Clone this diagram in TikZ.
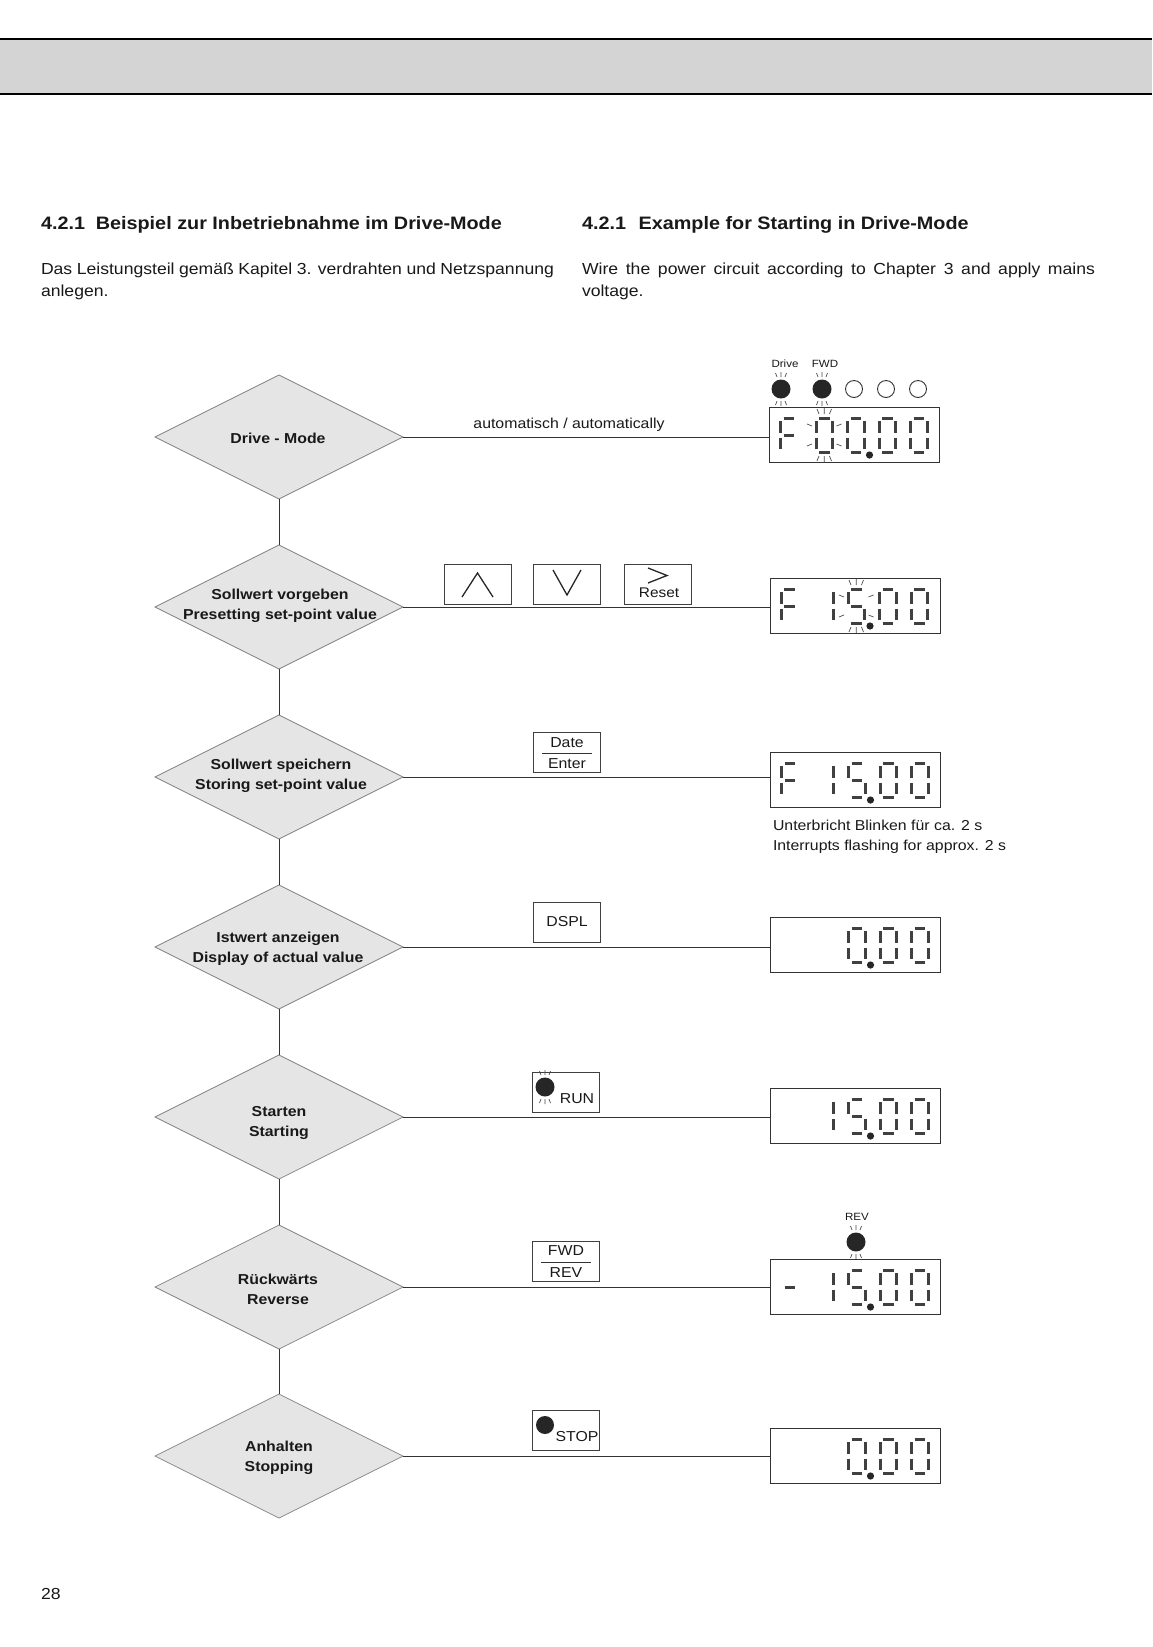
\documentclass[tikz,border=0pt]{standalone}
\usepackage{fontspec}
\setmainfont{Liberation Sans}[FakeStretch=1.1]
\usetikzlibrary{shapes.geometric,calc}
\newcommand\fsA{\fontsize{14.4}{20}\selectfont}
\newcommand\fsS{\fontsize{10.5}{12}\selectfont}
\newcommand\sdig[4]{\pic at ({#1-7+31.5*(#2-2)},{#3-17}) {#4};}
\newcommand\sblink[3]{\pic at ({#1-7+31.5*(#2-2)},{#3-17}) {blink};}
\newcommand\sFF[3]{\pic at ({#1-74},{#2-17}) {#3};}
\newcommand\sdot[2]{\fill[black!85] ({#1+15},{#2+20}) circle (3.6pt);}
\tikzset{
 seg/.style={line width=3pt, draw=black!75},
 ray/.style={line width=0.7pt, draw=black!70},
 sd0/.pic={\draw[seg] (3,0)--(13.5,0) (16.5,3)--(16.5,14.5) (16.5,19.5)--(16.5,31) (3,34)--(13.5,34) (0,19.5)--(0,31) (0,3)--(0,14.5);},
 sd1/.pic={\draw[seg] (16.5,3)--(16.5,14.5) (16.5,19.5)--(16.5,31);},
 sd5/.pic={\draw[seg] (3,0)--(13.5,0) (0,3)--(0,14.5) (3,17)--(13.5,17) (16.5,19.5)--(16.5,31) (3,34)--(13.5,34);},
 sdF/.pic={\draw[seg] (3,0)--(13.5,0) (0,3)--(0,14.5) (3,17)--(13.5,17) (0,19.5)--(0,31);},
 sdm/.pic={\draw[seg] (3,17)--(13.5,17);},
 blink/.pic={\draw[ray] (3,-4)--(1,-9) (8.25,-4)--(8.25,-10) (13.5,-4)--(15.5,-9)
   (3,38)--(1,43) (8.25,38)--(8.25,44) (13.5,38)--(15.5,43)
   (-4,8)--(-9,6) (-4,26)--(-9,28) (20.5,8)--(25.5,6) (20.5,26)--(25.5,28);},
 ledr/.pic={\fill[black!85] (0,0) circle (9.5pt);
   \draw[ray] (-4,-12)--(-5.5,-16) (0,-12)--(0,-17) (4,-12)--(5.5,-16) (-4,12)--(-5.5,16) (0,12)--(0,17) (4,12)--(5.5,16);},
}
\begin{document}
\begin{tikzpicture}[x=1pt,y=-1pt,
  every node/.style={inner sep=0pt,outer sep=0pt,text=black!90},
  dia/.style={diamond, draw=black!50, fill=black!10, line width=0.7pt, minimum width=248pt, minimum height=124pt},
  dtext/.style={font=\bfseries\fsA, align=center},
  disp/.style={draw=black!80, line width=1pt, minimum width=170pt, minimum height=55pt},
  btn/.style={draw=black!75, line width=0.9pt, minimum width=67pt, minimum height=40pt},
  conn/.style={line width=0.9pt, draw=black!80},
  chev/.style={line width=1.3pt, draw=black!85},
  btxt/.style={font=\fsA},
  ]
\fill[white] (0,0) rectangle (1152,1647);
\useasboundingbox (0,0) rectangle (1152,1647);
% header bar
\fill[black!17] (0,39) rectangle (1152,94);
\draw[line width=2pt] (0,39) -- (1152,39) (0,94) -- (1152,94);
% headings
\node[anchor=base west, font=\bfseries\fontsize{18}{22}\selectfont] (h1) at (41,229) {4.2.1\hspace{0.6em}Beispiel zur Inbetriebnahme im Drive-Mode};
\node[anchor=base west, font=\bfseries\fontsize{18}{22}\selectfont] (h2) at (582,229) {4.2.1\hspace{0.7em}Example for Starting in Drive-Mode};
\node[anchor=base west, font=\fontsize{16}{22}\selectfont] (p1) at (41,274) {\makebox[513pt][s]{Das Leistungsteil gemäß Kapitel 3. verdrahten und Netzspannung}};
\node[anchor=base west, font=\fontsize{16}{22}\selectfont] (p2) at (41,296) {anlegen.};
\node[anchor=base west, font=\fontsize{16}{22}\selectfont] (p3) at (582,274) {\makebox[513pt][s]{Wire the power circuit according to Chapter 3 and apply mains}};
\node[anchor=base west, font=\fontsize{16}{22}\selectfont] (p4) at (582,296) {voltage.};
% diamonds
\node[dia] (d1) at (279,437) {};
\node[dtext] (t1) at (278,438.5) {Drive - Mode};
\node[dia] (d2) at (279,607) {};
\node[dtext] (t2) at (280,606) {Sollwert vorgeben\\Presetting set-point value};
\node[dia] (d3) at (279,777) {};
\node[dtext] (t3) at (281,775.5) {Sollwert speichern\\Storing set-point value};
\node[dia] (d4) at (279,947) {};
\node[dtext] (t4) at (278,948.5) {Istwert anzeigen\\Display of actual value};
\node[dia] (d5) at (279,1117) {};
\node[dtext] (t5) at (279,1123) {Starten\\Starting};
\node[dia] (d6) at (279,1287) {};
\node[dtext] (t6) at (278,1289.5) {Rückwärts\\Reverse};
\node[dia] (d7) at (279,1456) {};
\node[dtext] (t7) at (279,1458) {Anhalten\\Stopping};
% displays
\node[disp] (s1) at (854.5,435) {};
\node[disp] (s2) at (855,606) {};
\node[disp] (s3) at (855.5,780) {};
\node[disp] (s4) at (855.5,945) {};
\node[disp] (s5) at (855.5,1116) {};
\node[disp] (s6) at (855.5,1287) {};
\node[disp] (s7) at (855.5,1456) {};
% connectors
\draw[conn] (d1.south) -- (d2.north);
\draw[conn] (d2.south) -- (d3.north);
\draw[conn] (d3.south) -- (d4.north);
\draw[conn] (d4.south) -- (d5.north);
\draw[conn] (d5.south) -- (d6.north);
\draw[conn] (d6.south) -- (d7.north);
\draw[conn] (d1.east) -- (d1.east -| s1.west);
\draw[conn] (d2.east) -- (d2.east -| s2.west);
\draw[conn] (d3.east) -- (d3.east -| s3.west);
\draw[conn] (d4.east) -- (d4.east -| s4.west);
\draw[conn] (d5.east) -- (d5.east -| s5.west);
\draw[conn] (d6.east) -- (d6.east -| s6.west);
\draw[conn] (d7.east) -- (d7.east -| s7.west);
% labels
\node[anchor=base, font=\fsA] (auto) at (569,428) {automatisch / automatically};
\node[anchor=base west, font=\fsA] (n1) at (773,830) {Unterbricht Blinken für ca. 2 s};
\node[anchor=base west, font=\fsA] (n2) at (773,850) {Interrupts flashing for approx. 2 s};
% LED row
\node[font=\fsS] (ldrive) at (785,364) {Drive};
\node[font=\fsS] (lfwd) at (825,364) {FWD};
\pic at (781,389) {ledr};
\pic at (822,389) {ledr};
\draw[line width=0.9pt, black!80] (854,389) circle (8.5pt) (886,389) circle (8.5pt) (918,389) circle (8.5pt);
\node[font=\fsS] (lrev) at (857,1217) {REV};
\pic at (856,1242) {ledr};
% display contents
\sFF{854.5}{435}{sdF} \sdig{854.5}{1}{435}{sd0} \sblink{854.5}{1}{435} \sdig{854.5}{2}{435}{sd0} \sdot{854.5}{435} \sdig{854.5}{3}{435}{sd0} \sdig{854.5}{4}{435}{sd0}
\sFF{855}{606}{sdF} \sdig{855}{1}{606}{sd1} \sdig{855}{2}{606}{sd5} \sblink{855}{2}{606} \sdot{855}{606} \sdig{855}{3}{606}{sd0} \sdig{855}{4}{606}{sd0}
\sFF{855.5}{780}{sdF} \sdig{855.5}{1}{780}{sd1} \sdig{855.5}{2}{780}{sd5} \sdot{855.5}{780} \sdig{855.5}{3}{780}{sd0} \sdig{855.5}{4}{780}{sd0}
\sdig{855.5}{2}{945}{sd0} \sdot{855.5}{945} \sdig{855.5}{3}{945}{sd0} \sdig{855.5}{4}{945}{sd0}
\sdig{855.5}{1}{1116}{sd1} \sdig{855.5}{2}{1116}{sd5} \sdot{855.5}{1116} \sdig{855.5}{3}{1116}{sd0} \sdig{855.5}{4}{1116}{sd0}
\sFF{855.5}{1287}{sdm} \sdig{855.5}{1}{1287}{sd1} \sdig{855.5}{2}{1287}{sd5} \sdot{855.5}{1287} \sdig{855.5}{3}{1287}{sd0} \sdig{855.5}{4}{1287}{sd0}
\sdig{855.5}{2}{1456}{sd0} \sdot{855.5}{1456} \sdig{855.5}{3}{1456}{sd0} \sdig{855.5}{4}{1456}{sd0}
% buttons
\node[btn] (b1) at (477.5,584) {};
\draw[chev] (462,597) -- (477.5,573) -- (493,597);
\node[btn] (b2) at (567,584) {};
\draw[chev] (553,570) -- (567,595) -- (581,570);
\node[btn] (b3) at (658,584.5) {};
\draw[chev] (648,568) -- (667,575.5) -- (648,583);
\node[font=\fontsize{14}{16}\selectfont] (b3t) at (659,593) {Reset};
\node[btn] (b4) at (567,752.5) {};
\node[btxt] (b4a) at (567,742.5) {Date};
\draw[line width=0.8pt, black!80] (542,753.5) -- (592,753.5);
\node[btxt] (b4b) at (567,764) {Enter};
\node[btn] (b5) at (567,922.5) {};
\node[btxt] (b5t) at (567,921.5) {DSPL};
\node[btn] (b6) at (566,1092) {};
\pic at (545,1087) {ledr};
\node[btxt] (b6t) at (577,1098.5) {RUN};
\node[btn] (b7) at (566,1261.5) {};
\node[btxt] (b7a) at (566,1251) {FWD};
\draw[line width=0.8pt, black!80] (541,1262) -- (591,1262);
\node[btxt] (b7b) at (566,1273) {REV};
\node[btn] (b8) at (566,1430) {};
\fill[black!85] (545,1425) circle (9pt);
\node[btxt] (b8t) at (577,1437) {STOP};
% page number
\node[anchor=base west, font=\fontsize{16}{20}\selectfont] (pg) at (41,1599) {28};
\end{tikzpicture}
\end{document}
